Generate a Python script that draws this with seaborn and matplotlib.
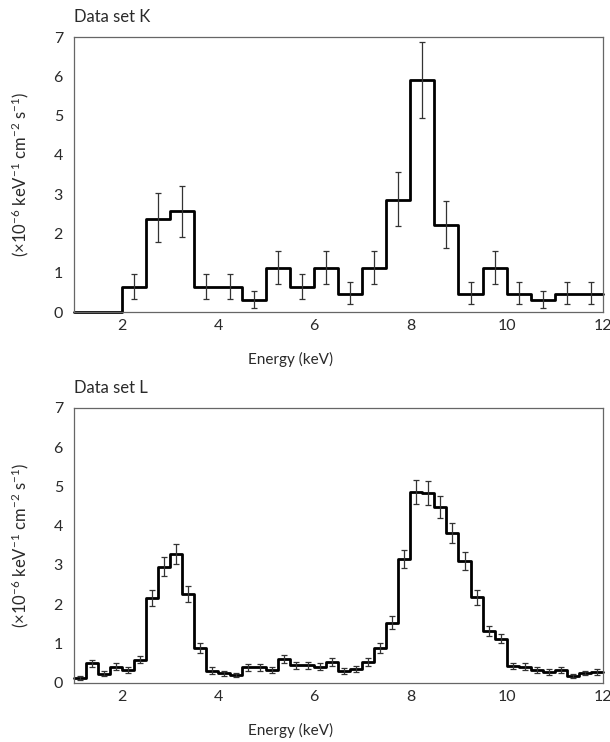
import numpy as np
import pandas as pd
import matplotlib
matplotlib.use("Agg")
import matplotlib.pyplot as plt
import seaborn as sns
from matplotlib.ticker import MultipleLocator

# data set K: 0.5 keV bins from 1 to 12 keV
k_edges = np.arange(1.0, 12.01, 0.5)
k_vals = [0, 0, 0.64, 2.38, 2.56, 0.64, 0.64, 0.31, 1.12, 0.64, 1.12,
          0.47, 1.12, 2.86, 5.91, 2.22, 0.47, 1.12, 0.47, 0.31, 0.47, 0.47]
k_err_lo = [0, 0, 0.32, 0.59, 0.65, 0.32, 0.32, 0.22, 0.41, 0.32, 0.41,
            0.26, 0.41, 0.66, 0.97, 0.58, 0.26, 0.41, 0.26, 0.22, 0.26, 0.26]
k_err_hi = [0, 0, 0.32, 0.65, 0.64, 0.32, 0.32, 0.23, 0.44, 0.32, 0.44,
            0.30, 0.44, 0.70, 0.97, 0.61, 0.30, 0.44, 0.30, 0.23, 0.30, 0.30]

# data set L: 0.25 keV bins from 1 to 12 keV
l_edges = np.arange(1.0, 12.01, 0.25)
l_vals = [0.12, 0.49, 0.23, 0.41, 0.32, 0.59, 2.16, 2.95, 3.27, 2.25, 0.89,
          0.31, 0.24, 0.20, 0.39, 0.39, 0.32, 0.61, 0.45, 0.45, 0.41, 0.52,
          0.30, 0.35, 0.53, 0.89, 1.53, 3.16, 4.86, 4.83, 4.48, 3.81, 3.10,
          2.17, 1.32, 1.12, 0.43, 0.41, 0.32, 0.27, 0.32, 0.17, 0.25, 0.27]
l_err = [0.05, 0.10, 0.07, 0.09, 0.08, 0.10, 0.20, 0.24, 0.25, 0.20, 0.13,
         0.08, 0.07, 0.06, 0.08, 0.08, 0.08, 0.10, 0.09, 0.09, 0.08, 0.10,
         0.07, 0.08, 0.10, 0.13, 0.16, 0.23, 0.30, 0.30, 0.28, 0.26, 0.24,
         0.20, 0.12, 0.12, 0.08, 0.08, 0.07, 0.07, 0.07, 0.05, 0.06, 0.07]

sns.set_style("white")
plt.rcParams['font.family'] = ['Lato', 'DejaVu Sans']
plt.rcParams['mathtext.fontset'] = 'custom'
plt.rcParams['mathtext.rm'] = 'Lato'
plt.rcParams['mathtext.it'] = 'Lato:italic'
plt.rcParams['mathtext.bf'] = 'Lato:bold'
plt.rcParams['text.color'] = '#2a2a2a'

fig = plt.figure(figsize=(6.1, 7.42), dpi=100)
ax1 = fig.add_axes([0.1213, 0.5795, 0.8667, 0.3706])
ax2 = fig.add_axes([0.1213, 0.0799, 0.8667, 0.3706])

ylab = '(×10$^{\\mathregular{−6}}$ keV$^{\\mathregular{−1}}$ cm$^{\\mathregular{−2}}$ s$^{\\mathregular{−1}}$)'


def draw_panel(ax, edges, vals, lo, hi, title, cap):
    df = pd.DataFrame({'energy': (edges[:-1] + edges[1:]) / 2, 'flux': vals})
    sns.histplot(data=df, x='energy', weights='flux', bins=list(edges),
                 element='step', fill=False, color='black', linewidth=2.0,
                 ax=ax)
    for ln in ax.lines:
        ln.set_clip_on(False)
    m = (df['flux'] > 0).values
    ax.errorbar(df['energy'][m], df['flux'][m],
                yerr=[np.array(lo)[m], np.array(hi)[m]], fmt='none',
                ecolor='#333333', elinewidth=0.9, capsize=cap, capthick=0.9)
    ax.set_xlim(1, 12)
    ax.set_ylim(0, 7)
    ax.xaxis.set_major_locator(MultipleLocator(2))
    ax.xaxis.set_minor_locator(MultipleLocator(0.5))
    ax.yaxis.set_major_locator(MultipleLocator(1))
    ax.yaxis.set_minor_locator(MultipleLocator(0.2))
    ax.tick_params(axis='both', which='both', direction='in',
                   colors='#444444', labelcolor='#2a2a2a', labelsize=11.5)
    ax.tick_params(axis='y', which='major', length=9.5, width=0.8, pad=8)
    ax.tick_params(axis='y', which='minor', length=5, width=0.8)
    ax.tick_params(axis='x', which='major', length=7, width=0.8, pad=5)
    ax.tick_params(axis='x', which='minor', length=3.6, width=0.8)
    for s in ax.spines.values():
        s.set_color('#666666')
        s.set_linewidth(0.9)
    ax.set_xlabel('Energy (keV)', fontsize=11, color='#2a2a2a')
    ax.xaxis.set_label_coords(0.409, -0.145)
    ax.set_ylabel(ylab, fontsize=12, color='#2a2a2a')
    ax.yaxis.set_label_coords(-0.082, 0.5)
    ax.text(0, 1.054, title, transform=ax.transAxes, fontsize=12,
            ha='left', va='baseline')


draw_panel(ax1, k_edges, k_vals, k_err_lo, k_err_hi, 'Data set K', 2.2)
draw_panel(ax2, l_edges, l_vals, l_err, l_err, 'Data set L', 2.2)

fig.savefig('out.png', dpi=100)
